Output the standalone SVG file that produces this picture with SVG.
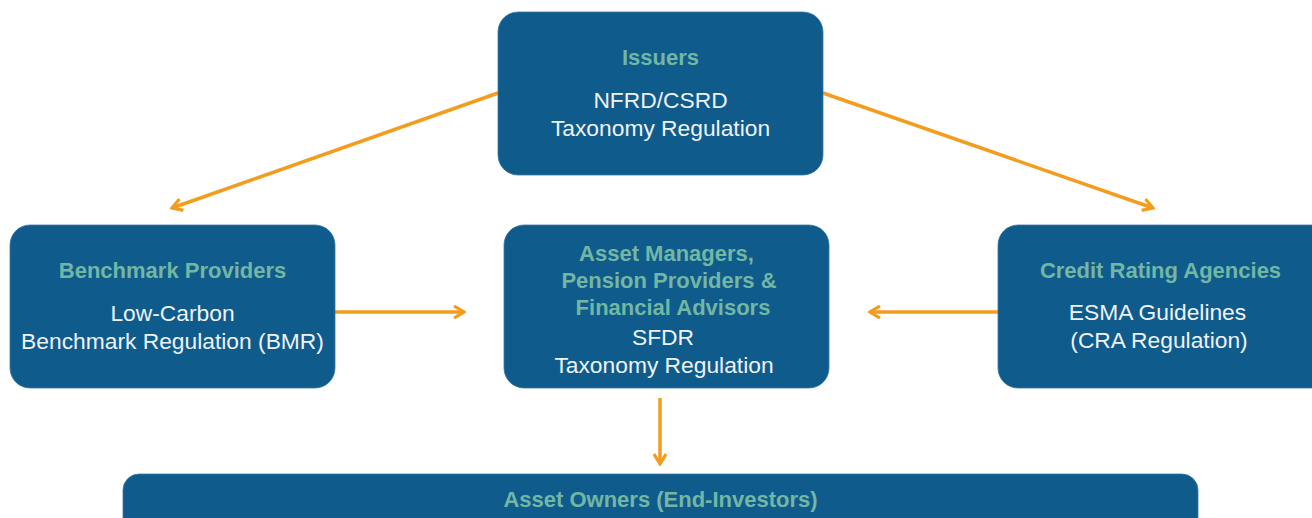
<svg xmlns="http://www.w3.org/2000/svg" width="1312" height="518" viewBox="0 0 1312 518">
<defs>
<style>
.box{fill:#0f5b8c;stroke:#3a78a3;stroke-width:0.8}
.t{font-family:"Liberation Sans",Arial,sans-serif;font-size:22px;fill:#72b7a4;font-weight:bold;text-anchor:middle}
.b{font-family:"Liberation Sans",Arial,sans-serif;font-size:22.8px;fill:#eef3f7;text-anchor:middle}
.c{fill:none;stroke:#f39c1e;stroke-width:3.5}
</style>
<marker id="ah" viewBox="0 0 14 14" refX="12" refY="7" markerWidth="14" markerHeight="14" markerUnits="userSpaceOnUse" orient="auto">
<polyline points="2,1 12,7 2,13" fill="none" stroke="#f39c1e" stroke-width="3.2"/>
</marker>
</defs>
<rect width="1312" height="518" fill="#ffffff"/>
<g id="connectors">
<line class="c" x1="498" y1="93" x2="172" y2="208" marker-end="url(#ah)"/>
<line class="c" x1="823" y1="93" x2="1153" y2="208" marker-end="url(#ah)"/>
<line class="c" x1="335" y1="312" x2="464" y2="312" marker-end="url(#ah)"/>
<line class="c" x1="998" y1="312" x2="870" y2="312" marker-end="url(#ah)"/>
<line class="c" x1="660" y1="398" x2="660" y2="464" marker-end="url(#ah)"/>
</g>
<g id="issuers">
<rect class="box" x="498" y="12" width="325" height="163" rx="20"/>
<text class="t" x="660.5" y="65">Issuers</text>
<text class="b" x="660.5" y="108">NFRD/CSRD</text>
<text class="b" x="660.5" y="136">Taxonomy Regulation</text>
</g>
<g id="benchmark">
<rect class="box" x="10" y="225" width="325" height="163" rx="20"/>
<text class="t" x="172.5" y="278">Benchmark Providers</text>
<text class="b" x="172.5" y="321">Low-Carbon</text>
<text class="b" x="172.5" y="349">Benchmark Regulation (BMR)</text>
</g>
<g id="managers">
<rect class="box" x="504" y="225" width="325" height="163" rx="20"/>
<text class="t" x="666.5" y="261">Asset Managers,</text>
<text class="t" x="669" y="288">Pension Providers &amp;</text>
<text class="t" x="673" y="315">Financial Advisors</text>
<text class="b" x="663" y="345">SFDR</text>
<text class="b" x="664" y="373">Taxonomy Regulation</text>
</g>
<g id="cra">
<rect class="box" x="998" y="225" width="340" height="163" rx="20"/>
<text class="t" x="1160.5" y="278">Credit Rating Agencies</text>
<text class="b" x="1157.5" y="320">ESMA Guidelines</text>
<text class="b" x="1159" y="348">(CRA Regulation)</text>
</g>
<g id="owners">
<rect class="box" x="123" y="474" width="1075" height="80" rx="16"/>
<text class="t" x="660.5" y="507">Asset Owners (End-Investors)</text>
</g>
</svg>
